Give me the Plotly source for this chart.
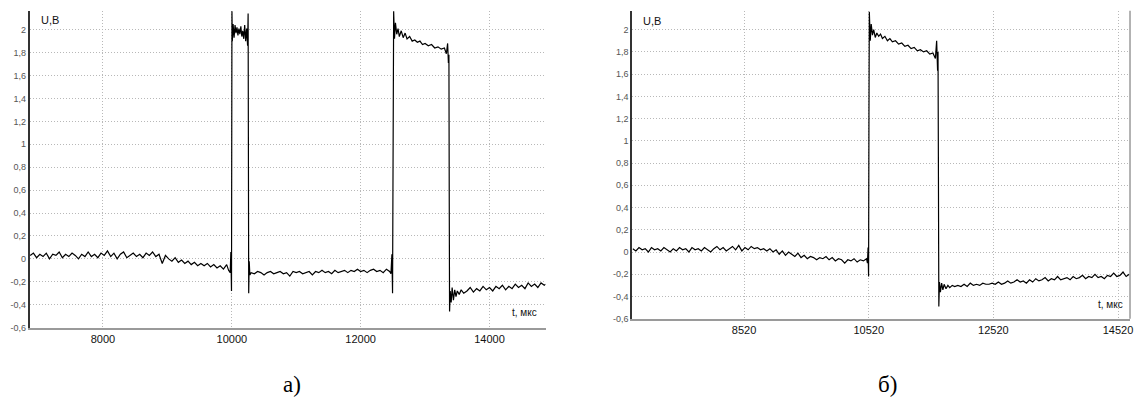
import plotly.graph_objects as go

# ---------------- data: plot a) ----------------
ta = [6870, 6920, 6970, 7020, 7070, 7120, 7170, 7220, 7270, 7320,
      7370, 7420, 7470, 7520, 7570, 7620, 7670, 7720, 7770, 7820,
      7870, 7920, 7970, 8020, 8070, 8120, 8170, 8220, 8270, 8320,
      8370, 8420, 8470, 8520, 8570, 8620, 8670, 8720, 8770, 8820,
      8870, 8920, 8970, 9020, 9070, 9120, 9170, 9220, 9270, 9320,
      9370, 9420, 9470, 9520, 9570, 9620, 9670, 9720, 9770, 9820,
      9870, 9920, 9950,
      9975, 9985, 9995, 10002, 10008,
      10020, 10035, 10050, 10065, 10080, 10095, 10110, 10125, 10140, 10155,
      10170, 10185, 10200, 10215, 10230, 10245,
      10253, 10256, 10262, 10270, 10280,
      10300, 10350, 10400, 10450, 10500, 10550, 10600, 10650, 10700, 10750,
      10800, 10850, 10900, 10950, 11000, 11050, 11100, 11150, 11200, 11250,
      11300, 11350, 11400, 11450, 11500, 11550, 11600, 11650, 11700, 11750,
      11800, 11850, 11900, 11950, 12000, 12050, 12100, 12150, 12200, 12250,
      12300, 12350, 12400, 12450,
      12470, 12485, 12495, 12505, 12512,
      12525, 12540, 12560, 12580, 12600, 12630, 12660, 12690, 12720, 12760,
      12800, 12840, 12880, 12920, 12960, 13000, 13050, 13100, 13150, 13200,
      13250, 13300, 13330, 13350, 13362,
      13370, 13375, 13380, 13390,
      13405, 13420, 13440, 13460, 13480, 13500, 13530, 13560, 13600,
      13650, 13700, 13750, 13800, 13850, 13900, 13950, 14000, 14050, 14100,
      14150, 14200, 14250, 14300, 14350, 14400, 14450, 14500, 14550, 14600,
      14650, 14700, 14750, 14800, 14850, 14870]
ua = [0.03, 0.05, 0.01, 0.04, 0.02, 0.05, 0.00, 0.04, 0.03, 0.06,
      0.01, 0.04, 0.02, 0.05, 0.03, 0.00, 0.04, 0.02, 0.06, 0.02,
      0.04, 0.01, 0.05, 0.03, 0.07, 0.02, 0.05, 0.00, 0.04, 0.06,
      0.01, 0.03, 0.05, 0.02, 0.04, 0.01, 0.05, 0.03, 0.06, 0.02,
      0.04, -0.04, 0.03, 0.00, -0.02, 0.01, -0.03, -0.01, -0.04, -0.02,
      -0.05, -0.03, -0.06, -0.04, -0.06, -0.04, -0.07, -0.05, -0.08, -0.06,
      -0.09, -0.05, -0.10,
      -0.12, 0.06, -0.28, 2.16, 1.90,
      2.05, 1.93, 2.04, 1.97, 2.02, 1.95, 2.01, 1.96, 2.03, 1.94,
      1.99, 1.92, 2.04, 1.90, 2.01, 1.86,
      2.14, 0.77, -0.30, -0.02, -0.14,
      -0.12, -0.13, -0.11, -0.12, -0.14, -0.12, -0.11, -0.13, -0.12, -0.11,
      -0.13, -0.12, -0.15, -0.11, -0.12, -0.11, -0.13, -0.12, -0.11, -0.14,
      -0.11, -0.12, -0.10, -0.12, -0.11, -0.13, -0.10, -0.12, -0.11, -0.10,
      -0.12, -0.10, -0.11, -0.09, -0.11, -0.10, -0.12, -0.10, -0.09, -0.11,
      -0.10, -0.12, -0.09, -0.11,
      -0.13, 0.04, -0.30, 0.80, 2.16,
      1.92, 2.06, 1.96, 2.01, 1.94, 1.99, 1.93, 1.97, 1.92, 1.94,
      1.90, 1.91, 1.89, 1.90, 1.87, 1.88, 1.86, 1.87, 1.84, 1.85,
      1.83, 1.84, 1.79, 1.88, 1.71,
      1.78, 0.50, -0.46, -0.28,
      -0.38, -0.25, -0.36, -0.27, -0.33, -0.28, -0.31, -0.27, -0.30,
      -0.28, -0.25, -0.29, -0.26, -0.28, -0.24, -0.27, -0.25, -0.28, -0.24,
      -0.26, -0.23, -0.27, -0.24, -0.26, -0.22, -0.25, -0.23, -0.26, -0.21,
      -0.24, -0.22, -0.25, -0.21, -0.23, -0.22]

# ---------------- data: plot б) ----------------
tb = [6735, 6785, 6835, 6885, 6935, 6985, 7035, 7085, 7135, 7185,
      7235, 7285, 7335, 7385, 7435, 7485, 7535, 7585, 7635, 7685,
      7735, 7785, 7835, 7885, 7935, 7985, 8035, 8085, 8135, 8185,
      8235, 8285, 8335, 8385, 8435, 8485, 8535, 8585, 8635, 8685,
      8735, 8785, 8835, 8885, 8935, 8985, 9035, 9085, 9135, 9185,
      9235, 9285, 9335, 9385, 9435, 9485, 9535, 9585, 9635, 9685,
      9735, 9785, 9835, 9885, 9935, 9985, 10035, 10085, 10135, 10185,
      10235, 10285, 10335, 10385, 10435, 10485,
      10500, 10510, 10518, 10524, 10530,
      10545, 10560, 10580, 10600, 10625, 10650, 10680, 10710, 10740, 10780,
      10820, 10860, 10900, 10950, 11000, 11050, 11100, 11150, 11200, 11250,
      11300, 11350, 11400, 11450, 11500, 11550, 11590, 11610, 11625,
      11632, 11638, 11645, 11655,
      11670, 11690, 11710, 11730, 11760, 11790, 11820, 11860, 11900,
      11950, 12000, 12050, 12100, 12150, 12200, 12250, 12300, 12350, 12400,
      12450, 12500, 12550, 12600, 12650, 12700, 12750, 12800, 12850, 12900,
      12950, 13000, 13050, 13100, 13150, 13200, 13250, 13300, 13350, 13400,
      13450, 13500, 13550, 13600, 13650, 13700, 13750, 13800, 13850, 13900,
      13950, 14000, 14050, 14100, 14150, 14200, 14250, 14300, 14350, 14400,
      14450, 14500, 14550, 14600, 14650, 14700]
ub = [0.03, 0.01, 0.04, 0.02, 0.03, 0.00, 0.04, 0.02, 0.03, 0.01,
      0.04, 0.02, 0.00, 0.03, 0.01, 0.04, 0.02, 0.03, 0.00, 0.04,
      0.02, 0.03, 0.01, 0.04, 0.02, 0.00, 0.03, 0.05, 0.02, 0.04,
      0.01, 0.03, 0.05, 0.02, 0.06, 0.01, 0.04, 0.02, 0.05, 0.03,
      0.04, 0.02, 0.03, 0.01, 0.03, 0.00, 0.02, -0.02, 0.01, -0.03,
      0.00, -0.02, -0.04, -0.01, -0.05, -0.03, -0.06, -0.04, -0.05, -0.07,
      -0.05, -0.06, -0.04, -0.07, -0.05, -0.08, -0.06, -0.07, -0.10, -0.07,
      -0.08, -0.06, -0.09, -0.07, -0.08, -0.06,
      -0.10, 0.04, -0.22, 1.20, 2.16,
      1.90, 2.05, 1.95, 2.00, 1.93, 1.97, 1.94, 1.96, 1.92, 1.94,
      1.90, 1.92, 1.89, 1.90, 1.87, 1.88, 1.85, 1.86, 1.83, 1.84,
      1.81, 1.82, 1.80, 1.81, 1.78, 1.79, 1.74, 1.90, 1.63,
      1.80, 0.80, -0.49, -0.27,
      -0.36, -0.28, -0.34, -0.29, -0.33, -0.30, -0.32, -0.30, -0.31,
      -0.30, -0.31, -0.29, -0.31, -0.28, -0.30, -0.29, -0.30, -0.28, -0.29,
      -0.29, -0.28, -0.29, -0.27, -0.29, -0.28, -0.26, -0.28, -0.27, -0.25,
      -0.27, -0.26, -0.28, -0.25, -0.27, -0.24, -0.26, -0.25, -0.23, -0.26,
      -0.24, -0.25, -0.22, -0.25, -0.24, -0.23, -0.25, -0.22, -0.24, -0.23,
      -0.21, -0.24, -0.22, -0.23, -0.20, -0.23, -0.22, -0.24, -0.21, -0.22,
      -0.19, -0.22, -0.21, -0.18, -0.22, -0.20]

# ---------------- ticks ----------------
y_ticks = [-0.6, -0.4, -0.2, 0, 0.2, 0.4, 0.6, 0.8, 1, 1.2, 1.4, 1.6, 1.8, 2]
y_labels = ["-0,6", "-0,4", "-0,2", "0", "0,2", "0,4", "0,6", "0,8", "1",
            "1,2", "1,4", "1,6", "1,8", "2"]
xa_ticks = [8000, 10000, 12000, 14000]
xb_ticks = [8520, 10520, 12520, 14520]

W, H = 1138, 407
FONT = "Liberation Sans, Arial, sans-serif"

fig = go.Figure()
fig.add_trace(go.Scatter(x=ta, y=ua, mode="lines", xaxis="x", yaxis="y",
                         line=dict(color="#000000", width=1.2), hoverinfo="skip"))
fig.add_trace(go.Scatter(x=tb, y=ub, mode="lines", xaxis="x2", yaxis="y2",
                         line=dict(color="#000000", width=1.2), hoverinfo="skip"))

xcommon = dict(showgrid=True, gridcolor="#b8b8b8", griddash="1px,2px", gridwidth=1,
               showline=True, linecolor="#9a9a9a", linewidth=2, zeroline=False,
               ticks="", tickfont=dict(family=FONT, size=11, color="#111111"))
ycommon = dict(showgrid=True, gridcolor="#b8b8b8", griddash="1px,2px", gridwidth=1,
               showline=True, linecolor="#333333", linewidth=2, zeroline=False,
               ticks="", tickvals=y_ticks, ticktext=y_labels,
               tickfont=dict(family=FONT, size=9, color="#555555"))

fig.update_layout(
    width=W, height=H,
    margin=dict(l=0, r=0, t=0, b=0),
    paper_bgcolor="white", plot_bgcolor="white",
    showlegend=False,
    xaxis=dict(domain=[30 / W, 547 / W], range=[6866, 14870], anchor="y",
               tickvals=xa_ticks, ticktext=[str(v) for v in xa_ticks], **xcommon),
    yaxis=dict(domain=[(H - 331.7) / H, (H - 11) / H], range=[-0.6, 2.164],
               anchor="x", **ycommon),
    xaxis2=dict(domain=[634 / W, 1133 / W], range=[6728, 14712], anchor="y2",
                tickvals=xb_ticks, ticktext=[str(v) for v in xb_ticks], **xcommon),
    yaxis2=dict(domain=[(H - 322.7) / H, (H - 11) / H], range=[-0.6, 2.169],
                anchor="x2", **ycommon),
)

fig.add_shape(type="line", xref="x2 domain", yref="y2 domain", x0=1, x1=1, y0=0, y1=1,
              line=dict(color="#9a9a9a", width=1.5))

ann_font = dict(family=FONT, size=11, color="#111111")
fig.add_annotation(text="U,B", xref="x domain", yref="y domain", x=0.018, y=0.972,
                   xanchor="left", yanchor="middle", showarrow=False, font=ann_font)
fig.add_annotation(text="U,B", xref="x2 domain", yref="y2 domain", x=0.018, y=0.968,
                   xanchor="left", yanchor="middle", showarrow=False, font=ann_font)
fig.add_annotation(text="t, мкс", xref="x domain", yref="y domain", x=0.988, y=0.047,
                   xanchor="right", yanchor="middle", showarrow=False,
                   font=dict(family=FONT, size=10, color="#111111"))
fig.add_annotation(text="t, мкс", xref="x2 domain", yref="y2 domain", x=0.99, y=0.047,
                   xanchor="right", yanchor="middle", showarrow=False,
                   font=dict(family=FONT, size=10, color="#111111"))
cap_font = dict(family="Liberation Serif, Times New Roman, serif", size=23, color="#000000")
fig.add_annotation(text="а)", xref="paper", yref="paper", x=293 / W, y=(H - 389) / H,
                   xanchor="center", yanchor="middle", showarrow=False, font=cap_font)
fig.add_annotation(text="б)", xref="paper", yref="paper", x=890 / W, y=(H - 389) / H,
                   xanchor="center", yanchor="middle", showarrow=False, font=cap_font)

fig.write_html("out.html")
